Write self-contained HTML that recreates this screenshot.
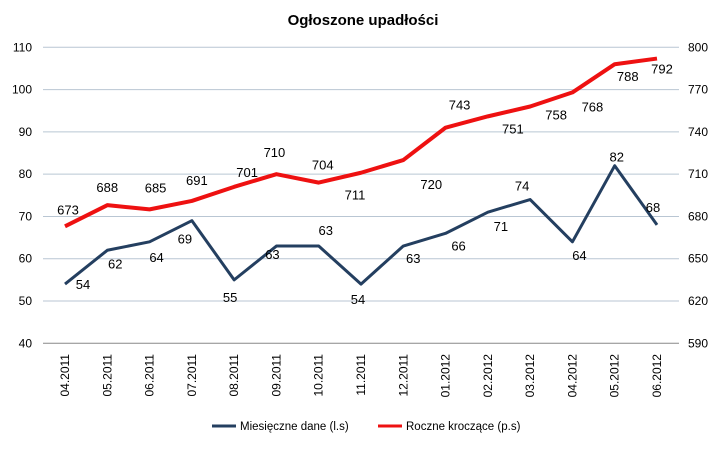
<!DOCTYPE html>
<html><head><meta charset="utf-8"><style>
body{margin:0;background:#fff;font-family:"Liberation Sans",sans-serif}
svg text{font-family:"Liberation Sans",sans-serif}
</style></head><body>
<svg id="c" width="726" height="448">
<text x="363" y="25" text-anchor="middle" font-size="15" font-weight="bold">Ogłoszone upadłości</text>
<g id="grid"></g><g id="axes"></g><g id="series"></g><g id="labels"></g>
<g>
<line x1="212" y1="426" x2="236" y2="426" stroke="#243f60" stroke-width="3"/>
<text x="240" y="430" font-size="11.5">Miesięczne dane (l.s)</text>
<line x1="378" y1="426" x2="402" y2="426" stroke="#ee1111" stroke-width="3"/>
<text x="406" y="430" font-size="11.5">Roczne kroczące (p.s)</text>
</g>
</svg>
<script>
const categories=["04.2011","05.2011","06.2011","07.2011","08.2011","09.2011","10.2011","11.2011","12.2011","01.2012","02.2012","03.2012","04.2012","05.2012","06.2012"];
const monthly=[54,62,64,69,55,63,63,54,63,66,71,74,64,82,68];
const rolling=[673,688,685,691,701,710,704,711,720,743,751,758,768,788,792];
const leftTicks=[40,50,60,70,80,90,100,110];
const rightTicks=[590,620,650,680,710,740,770,800];
const blueOff=[[18,1],[8,14],[7,16],[-7,19],[-4,18],[-4,9],[7,-15],[-3,16],[10,13],[13,13],[13,15],[-8,-13],[7,14],[2,-8],[-4,-17]];
const redOff=[[3,-16],[0,-17],[6,-21],[5,-20],[13,-14],[-2,-21],[4,-17],[-6,23],[28,25],[14,-22],[25,13],[26,9],[20,15],[13,13],[5,11]];
const NS="http://www.w3.org/2000/svg";
const X0=43,X1=679,Y0=343.3,Y1=47.3;
const xs=i=>65+i*(657-65)/(categories.length-1);
const yl=v=>Y0-(v-40)/(110-40)*(Y0-Y1);
const yr=v=>Y0-(v-590)/(800-590)*(Y0-Y1);
function mk(tag,a,parent){const e=document.createElementNS(NS,tag);for(const k in a)e.setAttribute(k,a[k]);document.getElementById(parent).appendChild(e);return e;}
leftTicks.forEach((t,i)=>{
 const y=yl(t);
 const g=mk("line",{x1:X0,x2:X1,y1:y,y2:y,stroke:i==0?"#888":"#b9c6d3","stroke-width":1},"grid");
 
 
 const l=mk("text",{x:32,y:y+4,"text-anchor":"end","font-size":12},"axes");l.textContent=t;
 
 
});
rightTicks.forEach(t=>{
 const r=mk("text",{x:688,y:yr(t)+4,"font-size":12},"axes");r.textContent=t;
 
 
});
categories.forEach((c,i)=>{
 const x=xs(i);
 const t=mk("text",{x:0,y:0,"font-size":12,"text-anchor":"end",transform:`translate(${x+4},354) rotate(-90)`},"axes");t.textContent=c;
 
 
});
function series(vals,yf,color,name,off){
 const p=mk("polyline",{points:vals.map((v,i)=>xs(i)+","+yf(v)).join(" "),fill:"none",stroke:color,"stroke-width":color=="#243f60"?3:4,"stroke-linejoin":"round"},"series");
 
 
 vals.forEach((v,i)=>{
  const t=mk("text",{x:xs(i)+off[i][0],y:yf(v)+off[i][1]+4,"text-anchor":"middle","font-size":13},"labels");t.textContent=v;
  
  
 });
}
series(monthly,yl,"#243f60","monthly-line",blueOff);
series(rolling,yr,"#ee1111","rolling-line",redOff);
</script>
</body></html>
